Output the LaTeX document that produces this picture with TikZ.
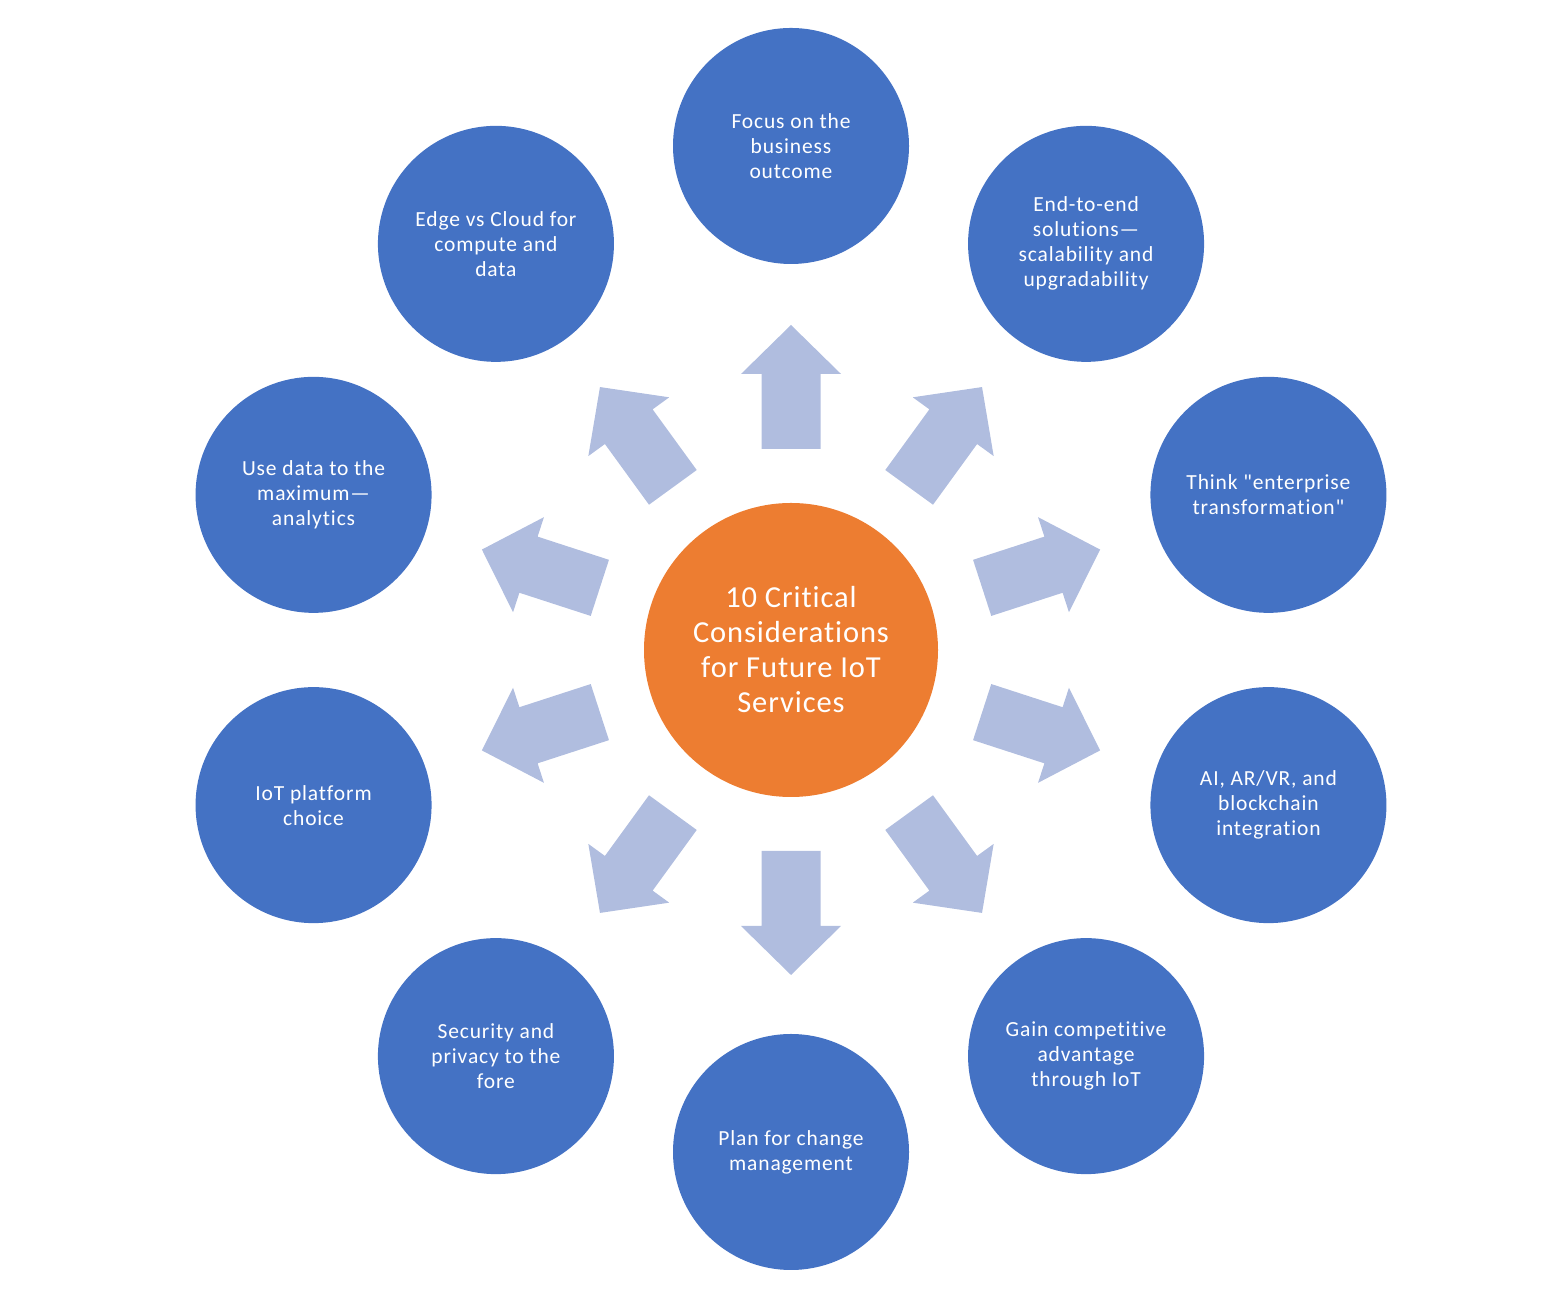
\documentclass[tikz,border=0pt]{standalone}
\usepackage{fontspec}
\newfontfamily\calib{Carlito}[Ligatures={NoCommon}]
\usetikzlibrary{calc}
\definecolor{cblue}{HTML}{4472C4}
\definecolor{corange}{HTML}{ED7D31}
\definecolor{carrow}{HTML}{B0BDDF}
\tikzset{
  outer/.style={circle, fill=cblue, minimum size=236pt, inner sep=0pt, text=white, align=center,
    font=\calib\fontsize{21.5}{25}\selectfont\addfontfeature{LetterSpace=4}},
  centre/.style={circle, fill=corange, minimum size=294pt, inner sep=0pt, text=white, align=center,
    font=\calib\fontsize{30.5}{35}\selectfont\addfontfeature{LetterSpace=3}},
  blockarrow/.style={fill=carrow, draw=none}
}
\begin{document}
\begin{tikzpicture}[x=1pt,y=1pt]
\useasboundingbox (0,0) rectangle (1556,1308);
\coordinate (C) at (791,658);
% arrows
\foreach \a in {90,54,18,-18,-54,-90,-126,-162,162,126}{
  \begin{scope}[shift={(C)}, rotate=\a]
    \fill[blockarrow] (201,-29.5) -- (276,-29.5) -- (276,-50) -- (325,0) -- (276,50) -- (276,29.5) -- (201,29.5) -- cycle;
  \end{scope}
}
\node[centre] (c) at (C) {10 Critical\\Considerations\\for Future IoT\\Services};
\node[outer] (n1) at ($(C)+(90:502)+(0,2)$) {Focus on the\\business\\outcome};
\node[outer] (n2) at ($(C)+(54:502)$) {End-to-end\\solutions—\\scalability and\\upgradability};
\node[outer] (n3) at ($(C)+(18:502)$) {Think "enterprise\\transformation"};
\node[outer] (n4) at ($(C)+(-18:502)$) {AI, AR/VR, and\\blockchain\\integration};
\node[outer] (n5) at ($(C)+(-54:502)$) {Gain competitive\\advantage\\through IoT};
\node[outer] (n6) at ($(C)+(-90:502)$) {Plan for change\\management};
\node[outer] (n7) at ($(C)+(-126:502)$) {Security and\\privacy to the\\fore};
\node[outer] (n8) at ($(C)+(-162:502)$) {IoT platform\\choice};
\node[outer] (n9) at ($(C)+(162:502)$) {Use data to the\\maximum—\\analytics};
\node[outer] (n10) at ($(C)+(126:502)$) {Edge vs Cloud for\\compute and\\data};
\end{tikzpicture}
\end{document}
